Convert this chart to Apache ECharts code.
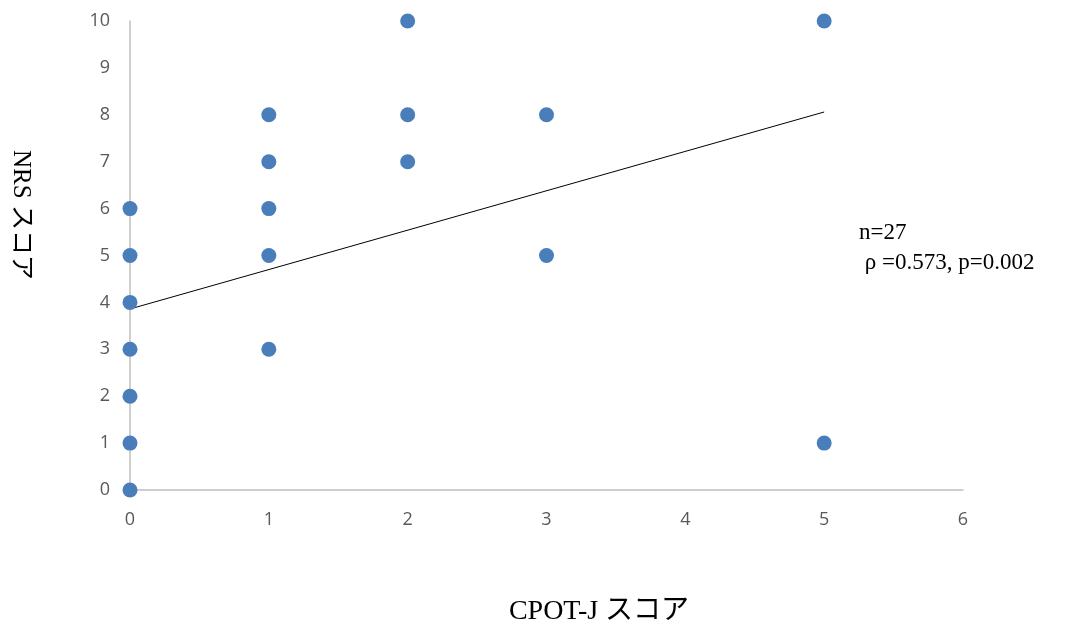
<!DOCTYPE html>
<html><head><meta charset="utf-8">
<script src="https://cdn.jsdelivr.net/npm/echarts@6/dist/echarts.min.js"></script>
<style>html,body{margin:0;padding:0;background:#fff}#c{width:1066px;height:629px}</style>
</head><body><div id="c"></div>
<script>
const cpotScores = [0,0,0,0,0,0,0,1,1,1,1,1,2,2,2,3,3,5,5];
const nrsScores  = [0,1,2,3,4,5,6,3,5,6,7,8,7,8,10,5,8,1,10];
const trendX = [0, 5];
const trendY = [3.86, 8.06];
const xTicks = [0,1,2,3,4,5,6];
const yTicks = [0,1,2,3,4,5,6,7,8,9,10];
const xTitle = 'CPOT-J スコア';
const yTitle = 'NRS スコア';
const noteLines = ['n=27', ' ρ =0.573, p=0.002'];

const serif = '"Liberation Serif","DejaVu Serif","Noto Sans CJK JP",serif';
const chart = echarts.init(document.getElementById('c'));
chart.setOption({
  animation: false,
  grid: {left: 130, right: 103, top: 21, bottom: 139},
  xAxis: {
    type: 'value', min: xTicks[0], max: xTicks[xTicks.length-1], interval: 1,
    axisLine: {show: true, lineStyle: {color: '#BFBFBF', width: 1.5}},
    axisTick: {show: false}, splitLine: {show: false},
    axisLabel: {color: '#595959', fontSize: 18, fontFamily: '"Open Sans",sans-serif', margin: 21}
  },
  yAxis: {
    type: 'value', min: yTicks[0], max: yTicks[yTicks.length-1], interval: 1,
    axisLine: {show: true, lineStyle: {color: '#BFBFBF', width: 1.5}},
    axisTick: {show: false}, splitLine: {show: false},
    axisLabel: {color: '#595959', fontSize: 18, fontFamily: '"Open Sans",sans-serif', margin: 20}
  },
  series: [
    {
      type: 'line', data: trendX.map((x,i)=>[x, trendY[i]]),
      symbol: 'none', lineStyle: {color: '#000', width: 1}, z: 3
    },
    {
      type: 'scatter', data: cpotScores.map((x,i)=>[x, nrsScores[i]]),
      symbolSize: 15, itemStyle: {color: '#4A7EBB', opacity: 1}, z: 4
    }
  ],
  graphic: [
    {type: 'text', x: 599, y: 612,
     style: {text: xTitle, font: '28px ' + serif, fill: '#000', align: 'center', verticalAlign: 'middle'}},
    {type: 'text', x: 21, y: 215, rotation: -Math.PI/2,
     style: {text: yTitle, font: '25px ' + serif, fill: '#000', align: 'center', verticalAlign: 'middle'}},
    {type: 'text', x: 859, y: 218,
     style: {text: noteLines.join('\n'), font: '23px ' + serif, fill: '#000', lineHeight: 30}}
  ]
});
</script></body></html>
